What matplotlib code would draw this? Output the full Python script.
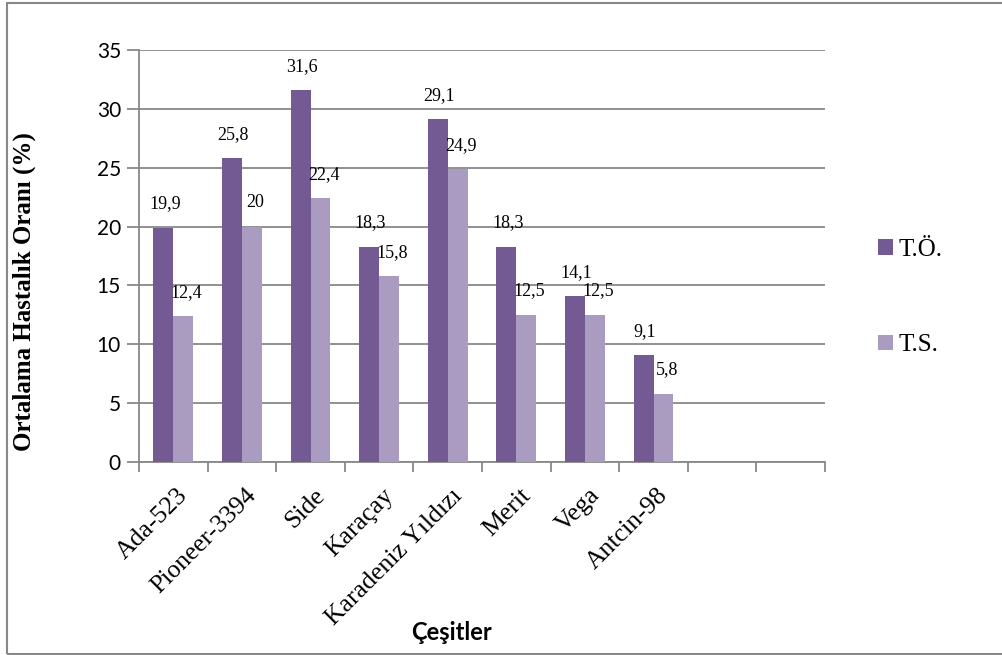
import numpy as np
import matplotlib.pyplot as plt
from matplotlib.patches import Rectangle

# veriler
cesitler = ['Ada-523', 'Pioneer-3394', 'Side', 'Karaçay', 'Karadeniz Yıldızı',
            'Merit', 'Vega', 'Antcin-98', '', '']
to_vals = [19.9, 25.8, 31.6, 18.3, 29.1, 18.3, 14.1, 9.1]
ts_vals = [12.4, 20.0, 22.4, 15.8, 24.9, 12.5, 12.5, 5.8]
seriler = ['T.Ö.', 'T.S.']
yticks = [0, 5, 10, 15, 20, 25, 30, 35]

c_dark = '#735A93'
c_light = '#AA9CC0'
grid_c = '#888888'
serif = 'Liberation Serif'
sans = 'Lato'

fig = plt.figure(figsize=(10.03, 6.55), dpi=100)
ax = fig.add_axes([139/1003, 1-462/655, (825-139)/1003, (462-50)/655])

n = len(cesitler)
x = np.arange(n)
w = 0.29
b1 = ax.bar(x[:len(to_vals)] - w/2, to_vals, w, color=c_dark, label=seriler[0], zorder=3)
b2 = ax.bar(x[:len(ts_vals)] + w/2, ts_vals, w, color=c_light, label=seriler[1], zorder=3)

for bars, vals, dx in [(b1, to_vals, 0.02), (b2, ts_vals, 0.05)]:
    for r, v in zip(bars, vals):
        s = ('%g' % v).replace('.', ',')
        ax.annotate(s, (r.get_x() + r.get_width()/2 + dx, v), xytext=(0, 11),
                    textcoords='offset points', ha='center', va='bottom',
                    fontsize=13, family=serif)

ax.set_xlim(-0.5, n - 0.5)
ax.set_ylim(0, 35)
ax.set_yticks(yticks)
ax.yaxis.grid(True, color=grid_c, linewidth=1.3, zorder=0)
ax.tick_params(axis='y', labelsize=15, length=9, width=1.3, color=grid_c, pad=4)
for t in ax.get_yticklabels():
    t.set_family(sans)

ax.set_xticks(np.arange(n + 1) - 0.5, minor=False)
ax.set_xticklabels([])
ax.tick_params(axis='x', length=7, width=1.3, color=grid_c)
for i, lab in enumerate(cesitler):
    ax.text(i + 0.05, -1.9, lab, rotation=45, ha='right', va='top',
            rotation_mode='anchor', fontsize=18.5, family=serif,
            transform=ax.transData)

for s in ['top', 'right']:
    ax.spines[s].set_visible(False)
for s in ['left', 'bottom']:
    ax.spines[s].set_color(grid_c)
    ax.spines[s].set_linewidth(1.3)

fig.text(24/1003, 1-292/655, 'Ortalama Hastalık Oranı (%)', rotation=90,
         ha='center', va='center', fontsize=18, fontweight='bold', family=serif)
fig.text(452/1003, 1-632/655, 'Çeşitler', ha='center', va='center',
         fontsize=17, fontweight='bold', family=sans)

fig.legend(handles=[b1, b2], loc='upper left', bbox_to_anchor=(856/1003, 1-216/655),
           frameon=False, prop={'family': serif, 'size': 18}, handlelength=0.6,
           handleheight=0.6, handletextpad=0.2, labelspacing=2.95)

fig.patches.append(Rectangle((7/1003, 1-654/655), 1.0, 651/655, transform=fig.transFigure,
                             fill=False, edgecolor='#888888', linewidth=1.5))

fig.savefig('out.png', dpi=100)
